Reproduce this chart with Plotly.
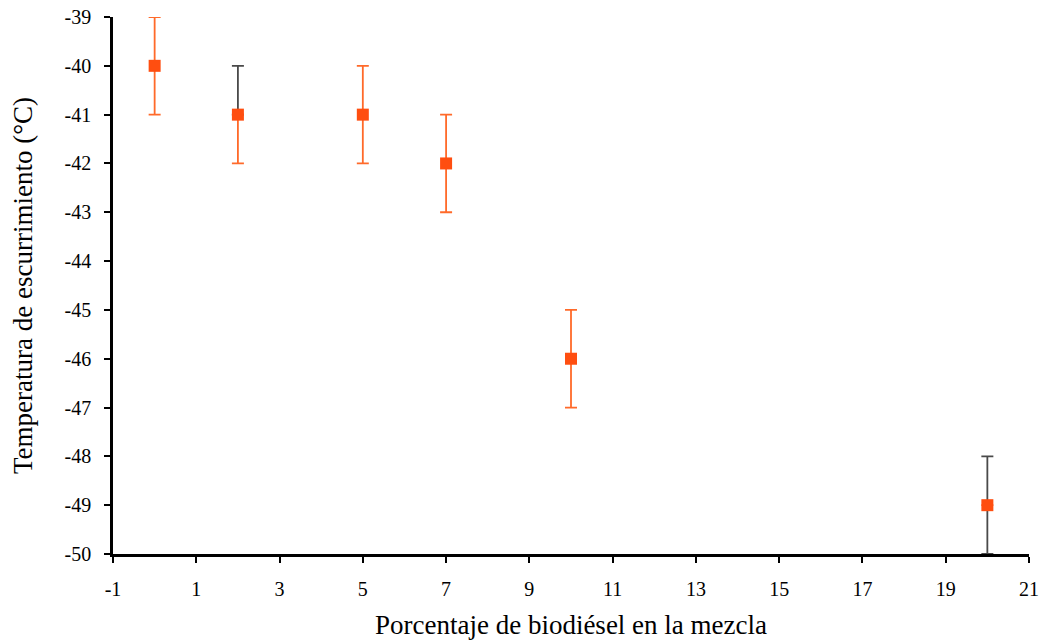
import plotly.graph_objects as go

# Data
pct = [0, 2, 5, 7, 10, 20]
temp = [-40, -41, -41, -42, -46, -49]
err_up_orange = [1, 0, 1, 1, 1, 0]
err_dn_orange = [1, 1, 1, 1, 1, 0]

dark_pct = [2, 20]
dark_temp = [-41, -49]
dark_up = [1, 1]
dark_dn = [0, 1]

x_ticks = [-1, 1, 3, 5, 7, 9, 11, 13, 15, 17, 19, 21]
y_ticks = [-39, -40, -41, -42, -43, -44, -45, -46, -47, -48, -49, -50]

FONT = "Liberation Serif, Times New Roman, serif"

fig = go.Figure()

fig.add_trace(go.Scatter(
    x=dark_pct, y=dark_temp, mode="markers",
    marker=dict(size=1, color="rgba(0,0,0,0)"),
    error_y=dict(type="data", symmetric=False, array=dark_up, arrayminus=dark_dn,
                 color="#4a4a4a", thickness=1.8, width=6),
    showlegend=False, hoverinfo="skip",
))

fig.add_trace(go.Scatter(
    x=pct, y=temp, mode="markers",
    marker=dict(symbol="square", size=12, color="#FF4E10",
                line=dict(width=0)),
    error_y=dict(type="data", symmetric=False, array=err_up_orange,
                 arrayminus=err_dn_orange, color="#FF6A2A", thickness=1.8, width=6),
    showlegend=False,
))

fig.update_layout(
    width=1041, height=640,
    margin=dict(l=113, r=12, t=17, b=86),
    paper_bgcolor="white", plot_bgcolor="white",
    font=dict(family=FONT, size=20, color="black"),
)

fig.update_xaxes(
    range=[-1, 21], tickvals=x_ticks, ticktext=[str(v) for v in x_ticks],
    showgrid=False, zeroline=False, showline=True, linecolor="black", linewidth=2.5,
    ticks="outside", ticklen=6, tickwidth=2, tickcolor="black",
    ticklabelstandoff=9, automargin=False,
    tickfont=dict(size=20),
    title=dict(text="Porcentaje de biodiésel en la mezcla", font=dict(size=27), standoff=17),
)
fig.update_yaxes(
    range=[-50, -39], tickvals=y_ticks, ticktext=[str(v) for v in y_ticks],
    showgrid=False, zeroline=False, showline=True, linecolor="black", linewidth=2.5,
    ticks="outside", ticklen=6, tickwidth=2, tickcolor="black",
    ticklabelstandoff=9, automargin=False,
    tickfont=dict(size=20),
    title=dict(text="Temperatura de escurrimiento (°C)", font=dict(size=27), standoff=25),
)

fig.write_html("out.html", post_script="document.body.style.margin='0';",
               config={"displayModeBar": False})
